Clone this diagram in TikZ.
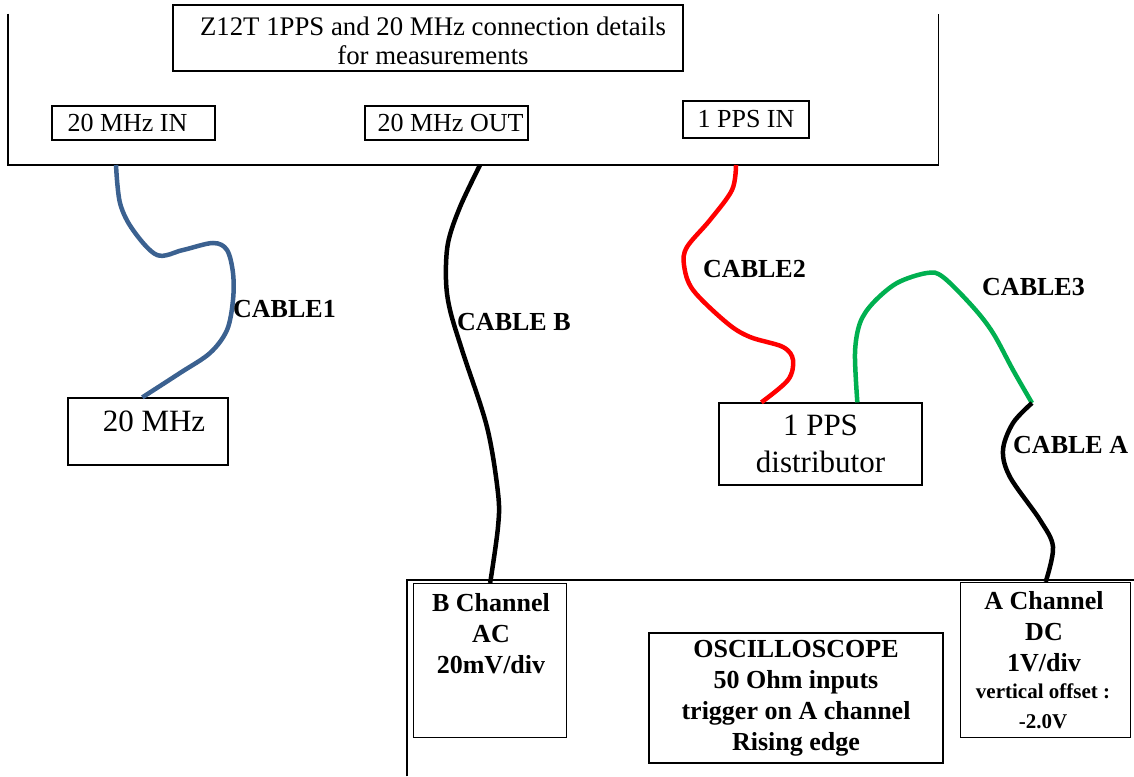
\documentclass[tikz,border=0pt]{standalone}
\usepackage{fontspec}
\setmainfont{Liberation Serif}
\usetikzlibrary{calc}
\definecolor{cblue}{HTML}{3B6190}
\definecolor{cred}{HTML}{FF0000}
\definecolor{cgreen}{HTML}{00B050}
\begin{document}
\begin{tikzpicture}[x=1pt,y=-1pt,
  box/.style={draw, line width=1.3pt, inner sep=0pt, align=center},
  frame/.style={line width=1.3pt},
  rtxt/.style={font=\fontsize{26}{29}\selectfont},
  btxt/.style={font=\fontsize{26}{31}\selectfont\bfseries},
  stxt/.style={font=\fontsize{21}{30}\selectfont\bfseries},
  cable/.style={line width=4.5pt},
  clabel/.style={font=\fontsize{26}{31}\selectfont\bfseries, inner sep=0pt, anchor=base west}]
\useasboundingbox (0,0) rectangle (1134,776);

% Z12T enclosure (open at top)
\node[minimum width=930, minimum height=151, inner sep=0pt, anchor=south west] (z12) at (8,165) {};
\draw[frame] (z12.north west) -- (z12.south west) -- (z12.south east) -- (z12.north east);

\node[box, minimum width=510, minimum height=66] (title) at (428,38) {};
\node[font=\fontsize{26.8}{29}\selectfont, align=center, inner sep=0pt] (titletxt) at (433,41)
  {Z12T 1PPS and 20 MHz connection details\\for measurements};
\node[box, rtxt, minimum width=163, minimum height=34] (in20) at (133.5,123) {20 MHz IN\hspace*{12pt}};
\node[box, rtxt, minimum width=163, minimum height=34] (out20) at (446.5,123) {\hspace*{8pt}20 MHz OUT};
\node[box, rtxt, minimum width=126, minimum height=37] (ppsin) at (746,119.5) {1 PPS IN};

% devices
\node[box, font=\fontsize{31}{37}\selectfont, minimum width=160, minimum height=67,
      text height=22pt, text depth=22pt] (mhz) at (148,431.5) {\hspace*{12pt}20 MHz};
\node[box, font=\fontsize{31}{37}\selectfont, minimum width=203, minimum height=82] (dist) at (820.5,444)
  {1 PPS\\distributor};

% oscilloscope
\node[minimum width=727, minimum height=196, inner sep=0pt, anchor=north west] (osc) at (407,580) {};
\draw[frame] (osc.south west) -- (osc.north west) -- (osc.north east);

\node[box, minimum width=153, minimum height=154, anchor=north west] (bch) at (413,583) {};
\node[btxt, align=center, inner sep=0pt, anchor=north] (bchtxt) at (491,593) {B Channel\\AC\\20mV/div};

\node[box, minimum width=170, minimum height=155, anchor=north west] (ach) at (960,582) {};
\node[btxt, align=center, inner sep=0pt, anchor=north] (achtxt) at (1044,591) {A Channel\\DC\\1V/div};
\node[stxt, align=center, inner sep=0pt, anchor=north] (achoff) at (1043,684) {vertical offset :\\-2.0V};

\node[box, btxt, minimum width=294, minimum height=130] (oscbox) at (796,698)
  {OSCILLOSCOPE\\50 Ohm inputs\\trigger on A channel\\Rising edge};

% cable end points
\coordinate (c1s) at ($(z12.south west)+(108,0)$);
\coordinate (c1e) at ($(mhz.north west)+(75,0)$);
\coordinate (cbs) at ($(z12.south west)+(472,0)$);
\coordinate (c2s) at ($(z12.south west)+(728,0)$);
\coordinate (c2e) at ($(dist.north west)+(43,0)$);
\coordinate (c3s) at ($(dist.north west)+(139,0)$);
\coordinate (jA) at (1032,403);

% cables
\draw[cable, cblue] plot[smooth, tension=0.55] coordinates {(c1s) (120,203) (133,230) (157,255) (183,250) (213,243) (227,250) (233,273) (233,300) (227,330) (210,353) (180,373) (c1e)};
\draw[cable, black] plot[smooth, tension=0.55] coordinates {(cbs) (460,207) (448,243) (446,280) (450,310) (463,353) (487,427) (498,493) (498,527) (bch.north)};
\draw[cable, cred] plot[smooth, tension=0.55] coordinates {(c2s) (732,190) (710,220) (687,247) (684,265) (693,290) (727,323) (750,337) (783,347) (793,360) (788,380) (c2e)};
\draw[cable, cgreen] plot[smooth, tension=0.55] coordinates {(c3s) (855,353) (860,323) (873,303) (897,283) (927,273) (943,277) (973,307) (993,333) (1013,370) (jA)};
\draw[cable, black] plot[smooth, tension=0.55] coordinates {(jA) (1013,423) (1003,450) (1010,477) (1040,520) (1053,547) (ach.north)};

% cable labels
\node[clabel] (l1) at (233,317) {CABLE1};
\node[clabel] (lb) at (457,330) {CABLE B};
\node[clabel] (l2) at (703,277) {CABLE2};
\node[clabel] (l3) at (982,295) {CABLE3};
\node[clabel] (la) at (1013,453) {CABLE A};
\end{tikzpicture}
\end{document}
